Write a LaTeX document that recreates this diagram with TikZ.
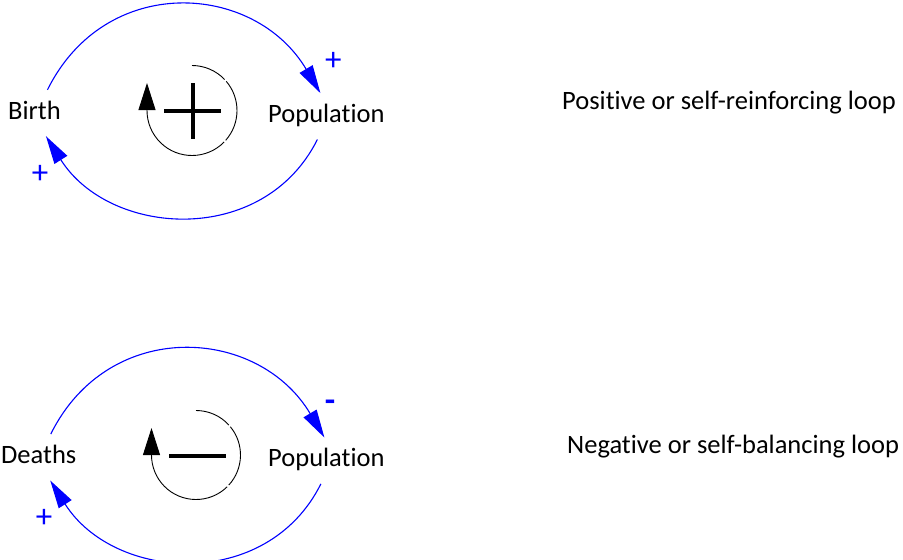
\documentclass[tikz,border=0pt]{standalone}
\usepackage{fontspec}
\setmainfont{Carlito}[Ligatures=NoCommon]
\usetikzlibrary{arrows.meta}

\begin{document}
\begin{tikzpicture}[
    x=1pt, y=-1pt,
    var/.style={inner xsep=0pt, inner ysep=11pt, text height=18pt, text depth=6pt, anchor=base west, font=\fontsize{26.5pt}{30pt}\selectfont},
    caption/.style={inner sep=0pt, anchor=base west, font=\fontsize{26.5pt}{30pt}\selectfont},
    sign/.style={text=blue, inner sep=0pt, font=\fontsize{33pt}{36pt}\selectfont},
    link/.style={blue, line width=1.1pt, -{Triangle[length=28pt,width=15pt]}},
    cyc/.style={line width=0.9pt},
    bar/.style={line width=3.5pt}
]
\useasboundingbox (0,0) rectangle (903,560);
% variables
\node[var] (birth) at (8,119) {Birth};
\node[var] (popA) at (268,122.3) {Population};
\node[var] (deaths) at (1,463.3) {Deaths};
\node[var] (popB) at (268,466.7) {Population};
\node[caption] (posloop) at (562,109.5) {Positive or self-reinforcing loop};
\node[caption] (negloop) at (567,453.5) {Negative or self-balancing loop};
% causal links
\draw[link] ([xshift=13pt]birth.north) .. controls +(58,-117) and +(-66,-111) .. ([xshift=-6pt]popA.north);
\draw[link] ([xshift=-9pt]popA.south) .. controls +(-54,108) and +(63.6,100.8) .. ([xshift=11.5pt]birth.south);
\draw[link] ([xshift=12pt]deaths.north) .. controls +(58,-117) and +(-66,-111) .. ([xshift=-2pt]popB.north);
\draw[link] ([xshift=-5.5pt]popB.south) .. controls +(-54,108) and +(63.6,100.8) .. ([xshift=11.5pt]deaths.south);
% polarities
\node[sign] (signA1) at (333.3,61.7) {+};
\node[sign] (signA2) at (40,174.3) {+};
\node[sign, font=\fontsize{34pt}{36pt}\selectfont\bfseries] (signB1) at (330,406) {-};
\node[sign] (signB2) at (44,518) {+};
% loop symbols
\coordinate (loopA) at (192,110.5);
\draw[cyc] (loopA) ++(-90:45) arc[start angle=-90, end angle=-43.5, radius=45];
\draw[cyc] (loopA) ++(-40.5:45) arc[start angle=-40.5, end angle=41.5, radius=45];
\draw[cyc, -{Triangle[length=27pt,width=17pt]}] (loopA) ++(44.5:45) arc[start angle=44.5, end angle=180, radius=45] -- ++(0,-27.5);
\draw[bar] (loopA) ++(-28,0.5) -- ++(57,0);
\draw[bar] (loopA) ++(1,-27.5) -- ++(0,56);
\coordinate (loopB) at (196,455);
\draw[cyc] (loopB) ++(-90:44.5) arc[start angle=-90, end angle=-42.5, radius=44.5];
\draw[cyc] (loopB) ++(-39.5:44.5) arc[start angle=-39.5, end angle=42.5, radius=44.5];
\draw[cyc, -{Triangle[length=27pt,width=17pt]}] (loopB) ++(45.5:44.5) arc[start angle=45.5, end angle=180, radius=44.5] -- ++(0,-27);
\draw[bar, line width=4pt] (loopB) ++(-27,1) -- ++(57,0);
\end{tikzpicture}
\end{document}
